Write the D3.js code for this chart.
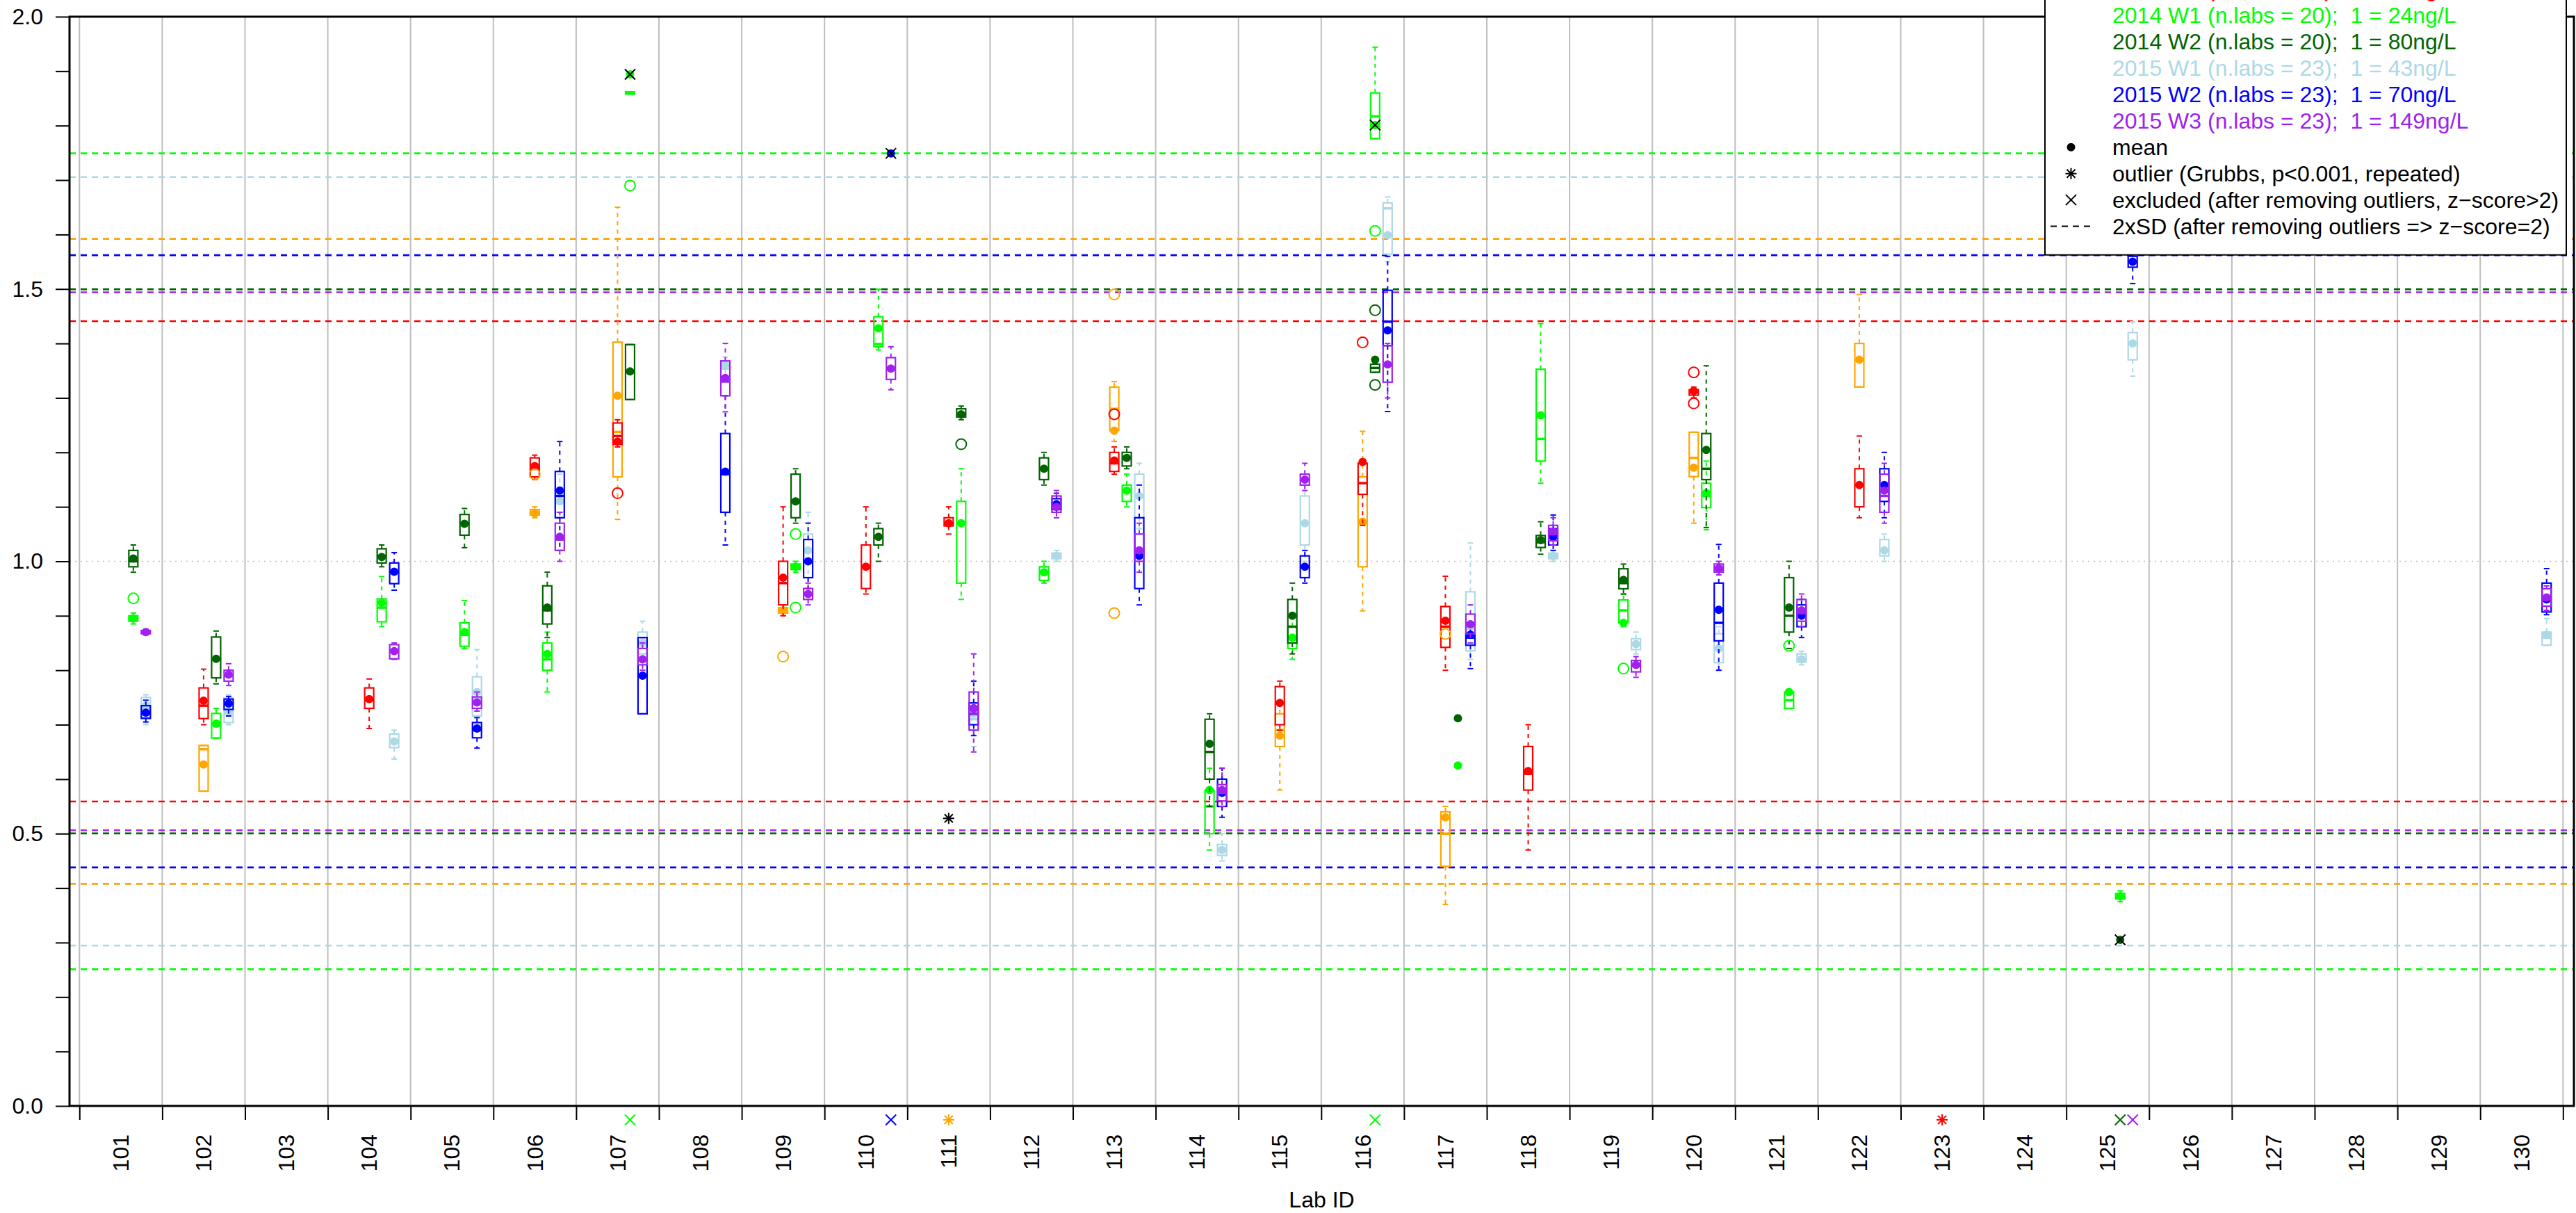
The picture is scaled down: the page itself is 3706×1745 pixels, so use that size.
<!DOCTYPE html>
<html><head><meta charset="utf-8">
<script src="https://cdn.jsdelivr.net/npm/d3@7"></script>
<style>html,body{margin:0;padding:0;background:#fff;} svg{display:block;font-family:"Liberation Sans",Arial,Helvetica,sans-serif;} .pre{white-space:pre;}</style>
</head><body><svg id="chart" width="3706" height="1745"></svg>
<script>
// ---------------- data ----------------
const labs = d3.range(101, 131).map(String);
const seriesNames = [
  "2013 W1 (n.labs = 18);  1 = 39ng/L",
  "2013 W2 (n.labs = 18);  1 = 52ng/L",
  "2014 W1 (n.labs = 20);  1 = 24ng/L",
  "2014 W2 (n.labs = 20);  1 = 80ng/L",
  "2015 W1 (n.labs = 23);  1 = 43ng/L",
  "2015 W2 (n.labs = 23);  1 = 70ng/L",
  "2015 W3 (n.labs = 23);  1 = 149ng/L"
];
const seriesColors = ["#FFA500", "#FF0000", "#00FF00", "#006400", "#ADD8E6", "#0000FF", "#A020F0"];
const seriesYear = [0, 0, 1, 1, 2, 2, 2];
// half-width of 2xSD band (lines at 1 +/- value)
const sd2 = [0.592, 0.441, 0.749, 0.4995, 0.7055, 0.562, 0.494];
const yTicks = d3.range(0, 21).map(i => i / 10);
const yTickLabels = ["0.0", "0.5", "1.0", "1.5", "2.0"];

// box stats: [lab, whiskerLow, q1, median, q3, whiskerHigh, mean]
const orangeStats = [
  ["102", 0.578, 0.578, 0.655, 0.662, 0.662, 0.627],
  ["106", 1.08, 1.085, 1.09, 1.095, 1.10, 1.088],
  ["107", 1.077, 1.155, 1.2375, 1.4025, 1.65, 1.304],
  ["109", 0.90, 0.905, 0.91, 0.915, 0.92, 0.91],
  ["113", 1.22, 1.24, 1.28, 1.32, 1.33, 1.24],
  ["115", 0.58, 0.66, 0.69, 0.72, 0.74, 0.68],
  ["116", 0.909, 0.99, 1.07, 1.155, 1.2387, 1.0726],
  ["117", 0.37, 0.44, 0.50, 0.54, 0.55, 0.53],
  ["120", 1.07, 1.1556, 1.19, 1.237, 1.237, 1.172],
  ["122", 1.32, 1.32, 1.37, 1.40, 1.49, 1.37]
];
const redStats = [
  ["102", 0.70, 0.7113, 0.735, 0.7676, 0.802, 0.744],
  ["104", 0.693, 0.730, 0.745, 0.7676, 0.784, 0.747],
  ["106", 1.15, 1.155, 1.17, 1.19, 1.195, 1.175],
  ["107", 1.21, 1.2147, 1.23, 1.254, 1.26, 1.22],
  ["109", 0.90, 0.92, 0.96, 1.0, 1.10, 0.97],
  ["110", 0.94, 0.95, 0.99, 1.03, 1.10, 0.99],
  ["111", 1.05, 1.065, 1.07, 1.08, 1.10, 1.07],
  ["113", 1.16, 1.165, 1.18, 1.20, 1.21, 1.185],
  ["115", 0.69, 0.70, 0.74, 0.77, 0.78, 0.74],
  ["116", 1.066, 1.123, 1.1435, 1.18, 1.185, 1.1825],
  ["117", 0.80, 0.842, 0.88, 0.917, 0.9726, 0.891],
  ["118", 0.47, 0.58, 0.61, 0.66, 0.70, 0.615],
  ["120", 1.30, 1.305, 1.31, 1.315, 1.32, 1.3127],
  ["122", 1.08, 1.10, 1.14, 1.17, 1.23, 1.14]
];
const greenStats = [
  ["101", 0.885, 0.89, 0.895, 0.90, 0.905, 0.895],
  ["102", 0.675, 0.6757, 0.70, 0.7207, 0.73, 0.702],
  ["104", 0.88, 0.889, 0.915, 0.931, 0.972, 0.924],
  ["105", 0.84, 0.844, 0.865, 0.887, 0.928, 0.870],
  ["106", 0.76, 0.80, 0.82, 0.85, 0.87, 0.83],
  ["107", 1.858, 1.858, 1.86, 1.862, 1.862, 1.894],
  ["109", 0.98, 0.985, 0.99, 0.995, 1.0, 0.99],
  ["110", 1.388, 1.394, 1.399, 1.449, 1.4997, 1.428],
  ["111", 0.93, 0.96, 1.07, 1.11, 1.17, 1.07],
  ["112", 0.96, 0.965, 0.98, 0.99, 1.0, 0.98],
  ["113", 1.10, 1.11, 1.13, 1.14, 1.16, 1.13],
  ["114", 0.47, 0.50, 0.55, 0.58, 0.62, 0.58],
  ["115", 0.82, 0.84, 0.86, 0.88, 0.90, 0.86],
  ["116", 1.776, 1.776, 1.817, 1.86, 1.944, 1.801],
  ["117", null, null, null, null, null, 0.625],
  ["118", 1.1434, 1.184, 1.2248, 1.3527, 1.4364, 1.268],
  ["119", 0.88, 0.887, 0.91, 0.929, 0.94, 0.887],
  ["120", 1.058, 1.0987, 1.12, 1.1434, 1.184, 1.1255],
  ["121", 0.73, 0.73, 0.745, 0.76, 0.76, 0.76],
  ["125", 0.375, 0.38, 0.385, 0.39, 0.395, 0.385]
];
const darkgreenStats = [
  ["101", 0.98, 0.99, 1.0, 1.02, 1.03, 1.005],
  ["102", 0.775, 0.786, 0.82, 0.861, 0.872, 0.821],
  ["104", 0.99, 0.997, 1.01, 1.023, 1.03, 1.008],
  ["105", 1.025, 1.048, 1.07, 1.086, 1.097, 1.069],
  ["106", 0.86, 0.885, 0.91, 0.955, 0.98, 0.915],
  ["107", 1.297, 1.297, 1.35, 1.398, 1.398, 1.3486],
  ["109", 1.07, 1.08, 1.11, 1.16, 1.17, 1.11],
  ["110", 1.0, 1.03, 1.045, 1.06, 1.07, 1.045],
  ["111", 1.26, 1.265, 1.27, 1.28, 1.285, 1.27],
  ["112", 1.14, 1.15, 1.17, 1.19, 1.20, 1.17],
  ["113", 1.17, 1.175, 1.19, 1.20, 1.21, 1.19],
  ["114", 0.55, 0.60, 0.65, 0.71, 0.72, 0.665],
  ["115", 0.83, 0.85, 0.88, 0.93, 0.96, 0.90],
  ["116", 1.347, 1.347, 1.355, 1.362, 1.362, 1.37],
  ["117", null, null, null, null, null, 0.712],
  ["118", 1.013, 1.0254, 1.035, 1.0474, 1.0726, 1.039],
  ["119", 0.94, 0.9496, 0.96, 0.9863, 0.995, 0.966],
  ["120", 1.062, 1.15, 1.17, 1.2346, 1.359, 1.2045],
  ["121", 0.84, 0.87, 0.90, 0.97, 1.0, 0.915],
  ["125", null, null, null, null, null, 0.305]
];
const lightblueStats = [
  ["101", 0.70, 0.71, 0.73, 0.75, 0.755, 0.735],
  ["102", 0.70, 0.704, 0.72, 0.749, 0.755, 0.725],
  ["104", 0.637, 0.658, 0.67, 0.683, 0.69, 0.669],
  ["105", 0.70, 0.716, 0.75, 0.788, 0.838, 0.76],
  ["106", 1.08, 1.09, 1.11, 1.13, 1.16, 1.11],
  ["107", 0.80, 0.83, 0.85, 0.87, 0.89, 0.85],
  ["108", 1.34, 1.353, 1.36, 1.367, 1.375, 1.36],
  ["109", 0.97, 1.0, 1.02, 1.05, 1.09, 1.02],
  ["111", 0.66, 0.69, 0.71, 0.74, 0.78, 0.72],
  ["112", 1.0, 1.005, 1.01, 1.015, 1.02, 1.01],
  ["113", 1.06, 1.08, 1.12, 1.16, 1.18, 1.12],
  ["114", 0.45, 0.46, 0.47, 0.48, 0.50, 0.47],
  ["115", 1.0, 1.03, 1.07, 1.12, 1.14, 1.07],
  ["116", 1.55, 1.564, 1.648, 1.658, 1.669, 1.599],
  ["117", 0.82, 0.8357, 0.87, 0.944, 1.0336, 0.88],
  ["118", 1.0, 1.005, 1.01, 1.015, 1.02, 1.0096],
  ["119", 0.83, 0.838, 0.848, 0.858, 0.87, 0.848],
  ["120", 0.80, 0.814, 0.84, 0.867, 0.88, 0.84],
  ["121", 0.81, 0.815, 0.82, 0.83, 0.835, 0.82],
  ["122", 1.0, 1.01, 1.02, 1.04, 1.05, 1.02],
  ["125", 1.34, 1.37, 1.40, 1.42, 1.44, 1.40],
  ["130", 0.846, 0.846, 0.86, 0.870, 0.895, 0.865]
];
const blueStats = [
  ["101", 0.705, 0.712, 0.722, 0.735, 0.745, 0.722],
  ["102", 0.716, 0.728, 0.738, 0.747, 0.752, 0.739],
  ["104", 0.947, 0.959, 0.98, 0.997, 1.016, 0.981],
  ["105", 0.657, 0.676, 0.69, 0.704, 0.713, 0.693],
  ["106", 1.02, 1.08, 1.12, 1.165, 1.22, 1.13],
  ["107", 0.72, 0.72, 0.79, 0.86, 0.86, 0.79],
  ["108", 1.03, 1.09, 1.16, 1.2346, 1.304, 1.1645],
  ["109", 0.95, 0.97, 1.0, 1.04, 1.07, 1.0],
  ["110", null, null, null, null, null, 1.749],
  ["111", 0.68, 0.70, 0.72, 0.74, 0.78, 0.73],
  ["112", 1.09, 1.095, 1.105, 1.115, 1.125, 1.105],
  ["113", 0.92, 0.95, 1.01, 1.08, 1.14, 1.01],
  ["114", 0.53, 0.55, 0.575, 0.60, 0.62, 0.575],
  ["115", 0.96, 0.97, 0.99, 1.01, 1.02, 0.99],
  ["116", 1.275, 1.396, 1.44, 1.4975, 1.56, 1.424],
  ["117", 0.803, 0.846, 0.86, 0.867, 0.88, 0.865],
  ["118", 1.02, 1.03, 1.045, 1.06, 1.085, 1.045],
  ["120", 0.80, 0.854, 0.887, 0.960, 1.031, 0.911],
  ["121", 0.86, 0.88, 0.90, 0.92, 0.93, 0.90],
  ["122", 1.08, 1.11, 1.14, 1.17, 1.20, 1.14],
  ["125", 1.51, 1.54, 1.55, 1.56, 1.58, 1.55],
  ["130", 0.902, 0.907, 0.93, 0.960, 0.9866, 0.93]
];
const purpleStats = [
  ["101", 0.865, 0.867, 0.87, 0.873, 0.875, 0.87],
  ["102", 0.772, 0.78, 0.79, 0.80, 0.812, 0.792],
  ["104", 0.82, 0.821, 0.835, 0.847, 0.85, 0.835],
  ["105", 0.725, 0.730, 0.74, 0.751, 0.76, 0.741],
  ["106", 1.0, 1.02, 1.04, 1.07, 1.09, 1.045],
  ["107", 0.80, 0.81, 0.82, 0.84, 0.85, 0.82],
  ["108", 1.2745, 1.304, 1.33, 1.368, 1.40, 1.3366],
  ["109", 0.92, 0.93, 0.94, 0.95, 0.96, 0.94],
  ["110", 1.315, 1.334, 1.354, 1.374, 1.394, 1.354],
  ["111", 0.65, 0.69, 0.72, 0.76, 0.83, 0.73],
  ["112", 1.08, 1.09, 1.10, 1.12, 1.13, 1.10],
  ["113", 0.98, 1.0, 1.02, 1.05, 1.07, 1.02],
  ["114", 0.55, 0.56, 0.575, 0.59, 0.62, 0.58],
  ["115", 1.13, 1.14, 1.15, 1.16, 1.18, 1.15],
  ["116", 1.30, 1.329, 1.36, 1.396, 1.40, 1.3616],
  ["117", 0.85, 0.867, 0.885, 0.903, 0.92, 0.8845],
  ["118", 1.03, 1.0376, 1.05, 1.066, 1.08, 1.055],
  ["119", 0.787, 0.797, 0.808, 0.818, 0.825, 0.8097],
  ["120", 0.975, 0.98, 0.985, 0.995, 1.0, 0.987],
  ["121", 0.88, 0.89, 0.905, 0.93, 0.94, 0.91],
  ["122", 1.07, 1.09, 1.12, 1.16, 1.18, 1.13],
  ["130", 0.91, 0.9177, 0.93, 0.9496, 0.955, 0.9336]
];
const allStats = [orangeStats, redStats, greenStats, darkgreenStats, lightblueStats, blueStats, purpleStats];

// boxplot outliers (open circles): [lab, seriesIndex, value]
const boxOutliers = [
  ["101", 2, 0.932], ["106", 0, 1.16], ["107", 1, 1.125], ["107", 2, 1.69],
  ["109", 0, 0.825], ["109", 2, 1.05], ["109", 2, 0.915], ["111", 3, 1.215],
  ["113", 1, 1.27], ["113", 0, 1.49], ["113", 0, 0.905], ["116", 1, 1.402],
  ["116", 2, 1.6066], ["116", 3, 1.461], ["116", 3, 1.324], ["117", 0, 0.8666],
  ["119", 2, 0.803], ["120", 1, 1.3469], ["120", 1, 1.29], ["121", 2, 0.845]
];
// excluded lab means (z-score > 2): [lab, seriesIndex, value]
const excluded = [["107", 2, 1.894], ["110", 5, 1.749], ["116", 2, 1.801], ["125", 3, 0.305]];
// Grubbs outliers inside range: [lab, seriesIndex, value]
const grubbs = [["111", 1, 0.528]];
// markers below the axis: [lab, seriesIndex, symbol]
const offscale = [["107", 2, "x"], ["110", 5, "x"], ["111", 0, "*"], ["116", 2, "x"],
  ["123", 1, "*"], ["125", 3, "x"], ["125", 6, "x"]];
const legendExtra = ["mean", "outlier (Grubbs, p<0.001, repeated)",
  "excluded (after removing outliers, z\u2212score>2)", "2xSD (after removing outliers => z\u2212score=2)"];

// ---------------- layout ----------------
const svg = d3.select("#chart");
const frame = {left: 100, right: 3703, top: 24, bottom: 1591};
const x = d3.scaleBand().domain(labs).range([114.3, 3687.3]).padding(0);
const xEdge = d3.scaleLinear().domain([0, labs.length]).range([114.3, 3687.3]);
const y = d3.scaleLinear().domain([0, 2]).range([frame.bottom, frame.top]);
const yearOffset = 0.151;
const xPos = (lab, s) => x(lab) + x.bandwidth() * (0.5 + yearOffset * seriesYear[s]);

// vertical grid
svg.append("g").selectAll("line").data(d3.range(labs.length + 1)).join("line")
  .attr("x1", d => xEdge(d)).attr("x2", d => xEdge(d))
  .attr("y1", frame.top).attr("y2", frame.bottom)
  .attr("stroke", "#BEBEBE").attr("stroke-width", 2);
// reference line at 1.0
svg.append("line").attr("x1", frame.left).attr("x2", frame.right)
  .attr("y1", y(1)).attr("y2", y(1))
  .attr("stroke", "#BEBEBE").attr("stroke-width", 1.5).attr("stroke-dasharray", "2,6");

// 2xSD lines
const sdG = svg.append("g");
sd2.forEach((h, s) => {
  [1 + h, 1 - h].forEach(v => {
    sdG.append("line").attr("x1", frame.left).attr("x2", frame.right)
      .attr("y1", y(v)).attr("y2", y(v))
      .attr("stroke", seriesColors[s]).attr("stroke-width", 2.6)
      .attr("stroke-dasharray", "9,7");
  });
});

// boxes
const boxW = 13, capW = 4;
const marks = svg.append("g");
allStats.forEach((stats, s) => {
  const col = seriesColors[s];
  const g = marks.append("g");
  stats.forEach(d => {
    const [lab, lo, q1, med, q3, hi, mean] = d;
    const cx = xPos(lab, s);
    if (q1 !== null) {
      g.append("line").attr("x1", cx).attr("x2", cx).attr("y1", y(q3)).attr("y2", y(hi))
        .attr("stroke", col).attr("stroke-width", 2).attr("stroke-dasharray", "6,6");
      g.append("line").attr("x1", cx).attr("x2", cx).attr("y1", y(q1)).attr("y2", y(lo))
        .attr("stroke", col).attr("stroke-width", 2).attr("stroke-dasharray", "6,6");
      [lo, hi].forEach(v => g.append("line").attr("x1", cx - capW).attr("x2", cx + capW)
        .attr("y1", y(v)).attr("y2", y(v)).attr("stroke", col).attr("stroke-width", 2));
      g.append("rect").attr("x", cx - boxW / 2).attr("width", boxW)
        .attr("y", y(q3)).attr("height", Math.max(0.5, y(q1) - y(q3)))
        .attr("fill", "none").attr("stroke", col).attr("stroke-width", 2.2);
      g.append("line").attr("x1", cx - boxW / 2).attr("x2", cx + boxW / 2)
        .attr("y1", y(med)).attr("y2", y(med)).attr("stroke", col).attr("stroke-width", 3.5);
    }
    g.append("circle").attr("cx", cx).attr("cy", y(mean)).attr("r", 6).attr("fill", col);
  });
});

// boxplot outliers
marks.append("g").selectAll("circle").data(boxOutliers).join("circle")
  .attr("cx", d => xPos(d[0], d[1])).attr("cy", d => y(d[2])).attr("r", 7.5)
  .attr("fill", "none").attr("stroke", d => seriesColors[d[1]]).attr("stroke-width", 2);

function cross(g, cx, cy, col, r = 7.5) {
  g.append("path").attr("d", `M${cx - r},${cy - r}L${cx + r},${cy + r}M${cx - r},${cy + r}L${cx + r},${cy - r}`)
    .attr("stroke", col).attr("stroke-width", 2).attr("fill", "none");
}
function star(g, cx, cy, col, r = 8) {
  const a = r * 0.75;
  g.append("path").attr("d", `M${cx},${cy - r}L${cx},${cy + r}M${cx - r},${cy}L${cx + r},${cy}` +
    `M${cx - a},${cy - a}L${cx + a},${cy + a}M${cx - a},${cy + a}L${cx + a},${cy - a}`)
    .attr("stroke", col).attr("stroke-width", 2).attr("fill", "none");
}
const symG = svg.append("g");
excluded.forEach(d => cross(symG, xPos(d[0], d[1]), y(d[2]), "#000"));
grubbs.forEach(d => star(symG, xPos(d[0], d[1]), y(d[2]), "#000"));
offscale.forEach(d => {
  const cx = xPos(d[0], d[1]), cy = 1611;
  if (d[2] === "x") cross(symG, cx, cy, seriesColors[d[1]]);
  else star(symG, cx, cy, seriesColors[d[1]]);
});

// axes
const yAxis = d3.axisLeft(y).tickValues(yTicks).tickSize(20).tickPadding(18)
  .tickFormat(v => {
    const lbl = d3.format(".1f")(v);
    return yTickLabels.includes(lbl) ? lbl : "";
  });
const yg = svg.append("g").attr("transform", `translate(${frame.left},0)`).call(yAxis);
yg.select(".domain").remove();
yg.selectAll(".tick line").attr("stroke", "#000").attr("stroke-width", 2);
yg.selectAll(".tick text").attr("font-size", 32).attr("fill", "#000")
  .attr("font-family", "Liberation Sans, Arial, sans-serif");

const xTickAxis = d3.axisBottom(xEdge).tickValues(d3.range(labs.length + 1)).tickSize(20).tickFormat("");
const xg1 = svg.append("g").attr("transform", `translate(0,${frame.bottom})`).call(xTickAxis);
xg1.select(".domain").remove();
xg1.selectAll(".tick line").attr("stroke", "#000").attr("stroke-width", 2);

const xLabAxis = d3.axisBottom(x).tickSize(0).tickPadding(0);
const xg2 = svg.append("g").attr("transform", `translate(0,${frame.bottom})`).call(xLabAxis);
xg2.select(".domain").remove();
xg2.selectAll(".tick text")
  .attr("transform", "translate(0,41) rotate(-90)")
  .attr("x", 0).attr("y", 0).attr("dy", "0.35em")
  .attr("text-anchor", "end").attr("font-size", 32).attr("fill", "#000")
  .attr("font-family", "Liberation Sans, Arial, sans-serif");

// frame
svg.append("rect").attr("x", frame.left).attr("y", frame.top)
  .attr("width", frame.right - frame.left).attr("height", frame.bottom - frame.top)
  .attr("fill", "none").attr("stroke", "#000").attr("stroke-width", 3);

// axis title
svg.append("text").attr("x", (frame.left + frame.right) / 2).attr("y", 1737)
  .attr("text-anchor", "middle").attr("font-size", 32).text("Lab ID");

// legend
const lg = svg.append("g");
const lgX = 2942, lgW = 750, lgBottom = 366.7, lineH = 37.9, base0 = 33.3 - 2 * lineH;
const textX = 3039, symX = 2979.5;
lg.append("rect").attr("x", lgX).attr("y", -120).attr("width", lgW).attr("height", lgBottom + 120)
  .attr("fill", "#fff").attr("stroke", "#000").attr("stroke-width", 2);
seriesNames.forEach((t, i) => {
  lg.append("text").attr("class", "pre").attr("x", textX).attr("y", base0 + i * lineH)
    .attr("font-size", 32).attr("fill", seriesColors[i]).text(t);
});
legendExtra.forEach((t, j) => {
  const by = base0 + (seriesNames.length + j) * lineH;
  lg.append("text").attr("class", "pre").attr("x", textX).attr("y", by).attr("font-size", 32).attr("fill", "#000").text(t);
  const cy = by - 11;
  if (j === 0) lg.append("circle").attr("cx", symX).attr("cy", cy).attr("r", 6).attr("fill", "#000");
  else if (j === 1) star(lg, symX, cy, "#000");
  else if (j === 2) cross(lg, symX, cy, "#000");
  else lg.append("line").attr("x1", 2950).attr("x2", 3009).attr("y1", cy).attr("y2", cy)
    .attr("stroke", "#000").attr("stroke-width", 2).attr("stroke-dasharray", "9,7");
});
</script></body></html>
